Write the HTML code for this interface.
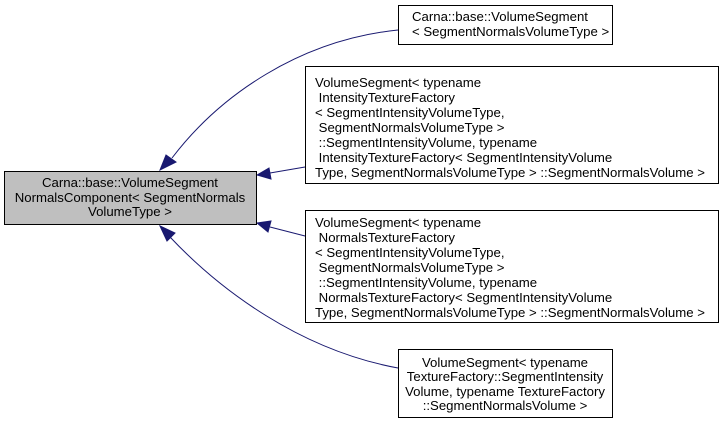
<!DOCTYPE html>
<html><head><meta charset="utf-8"><style>
html,body{margin:0;padding:0;background:#fff;}
svg{display:block;}
text{font-family:"Liberation Sans",sans-serif;font-size:13.2px;fill:#000;}
</style></head><body>
<svg width="724" height="425" viewBox="0 0 724 425" xmlns="http://www.w3.org/2000/svg">
<g fill="none" stroke="#191970" stroke-width="1">
<path d="M398,30 C300,40 220,95 172,158"/>
<path d="M305,167 L270,173"/>
<path d="M305,236 L270,227"/>
<path d="M398,368 C300,350 220,290 170,237"/>
</g>
<g fill="#191970" stroke="#191970">
<polygon points="160,170 166,155 176,162"/>
<polygon points="257,175 269,168 271,179"/>
<polygon points="257,223 271,221 268,232"/>
<polygon points="160,226 175,233 167,241"/>
</g>
<rect x="4.5" y="171.5" width="252" height="53" fill="#bfbfbf" stroke="#000"/>
<text x="130" y="187" text-anchor="middle">Carna::base::VolumeSegment</text>
<text x="130" y="202" text-anchor="middle">NormalsComponent&lt; SegmentNormals</text>
<text x="130" y="216" text-anchor="middle">VolumeType &gt;</text>

<rect x="398.5" y="5.5" width="214" height="39" fill="#fff" stroke="#000"/>
<text x="412" y="21">Carna::base::VolumeSegment</text>
<text x="412" y="36">&lt; SegmentNormalsVolumeType &gt;</text>

<rect x="305.5" y="66.5" width="413" height="117" fill="#fff" stroke="#000"/>
<text x="315" y="87">VolumeSegment&lt; typename</text>
<text x="315" y="102" xml:space="preserve"> IntensityTextureFactory</text>
<text x="315" y="117">&lt; SegmentIntensityVolumeType,</text>
<text x="315" y="132" xml:space="preserve"> SegmentNormalsVolumeType &gt;</text>
<text x="315" y="147" xml:space="preserve"> ::SegmentIntensityVolume, typename</text>
<text x="315" y="162" xml:space="preserve"> IntensityTextureFactory&lt; SegmentIntensityVolume</text>
<text x="315" y="177">Type, SegmentNormalsVolumeType &gt; ::SegmentNormalsVolume &gt;</text>

<rect x="305.5" y="210.5" width="413" height="112" fill="#fff" stroke="#000"/>
<text x="315" y="227">VolumeSegment&lt; typename</text>
<text x="315" y="242" xml:space="preserve"> NormalsTextureFactory</text>
<text x="315" y="257">&lt; SegmentIntensityVolumeType,</text>
<text x="315" y="272" xml:space="preserve"> SegmentNormalsVolumeType &gt;</text>
<text x="315" y="287" xml:space="preserve"> ::SegmentIntensityVolume, typename</text>
<text x="315" y="302" xml:space="preserve"> NormalsTextureFactory&lt; SegmentIntensityVolume</text>
<text x="315" y="317">Type, SegmentNormalsVolumeType &gt; ::SegmentNormalsVolume &gt;</text>

<rect x="398.5" y="349.5" width="214" height="68" fill="#fff" stroke="#000"/>
<text x="505" y="367" text-anchor="middle">VolumeSegment&lt; typename</text>
<text x="505" y="381" text-anchor="middle">TextureFactory::SegmentIntensity</text>
<text x="505" y="396" text-anchor="middle">Volume, typename TextureFactory</text>
<text x="505" y="410" text-anchor="middle">::SegmentNormalsVolume &gt;</text>
</svg>
</body></html>
